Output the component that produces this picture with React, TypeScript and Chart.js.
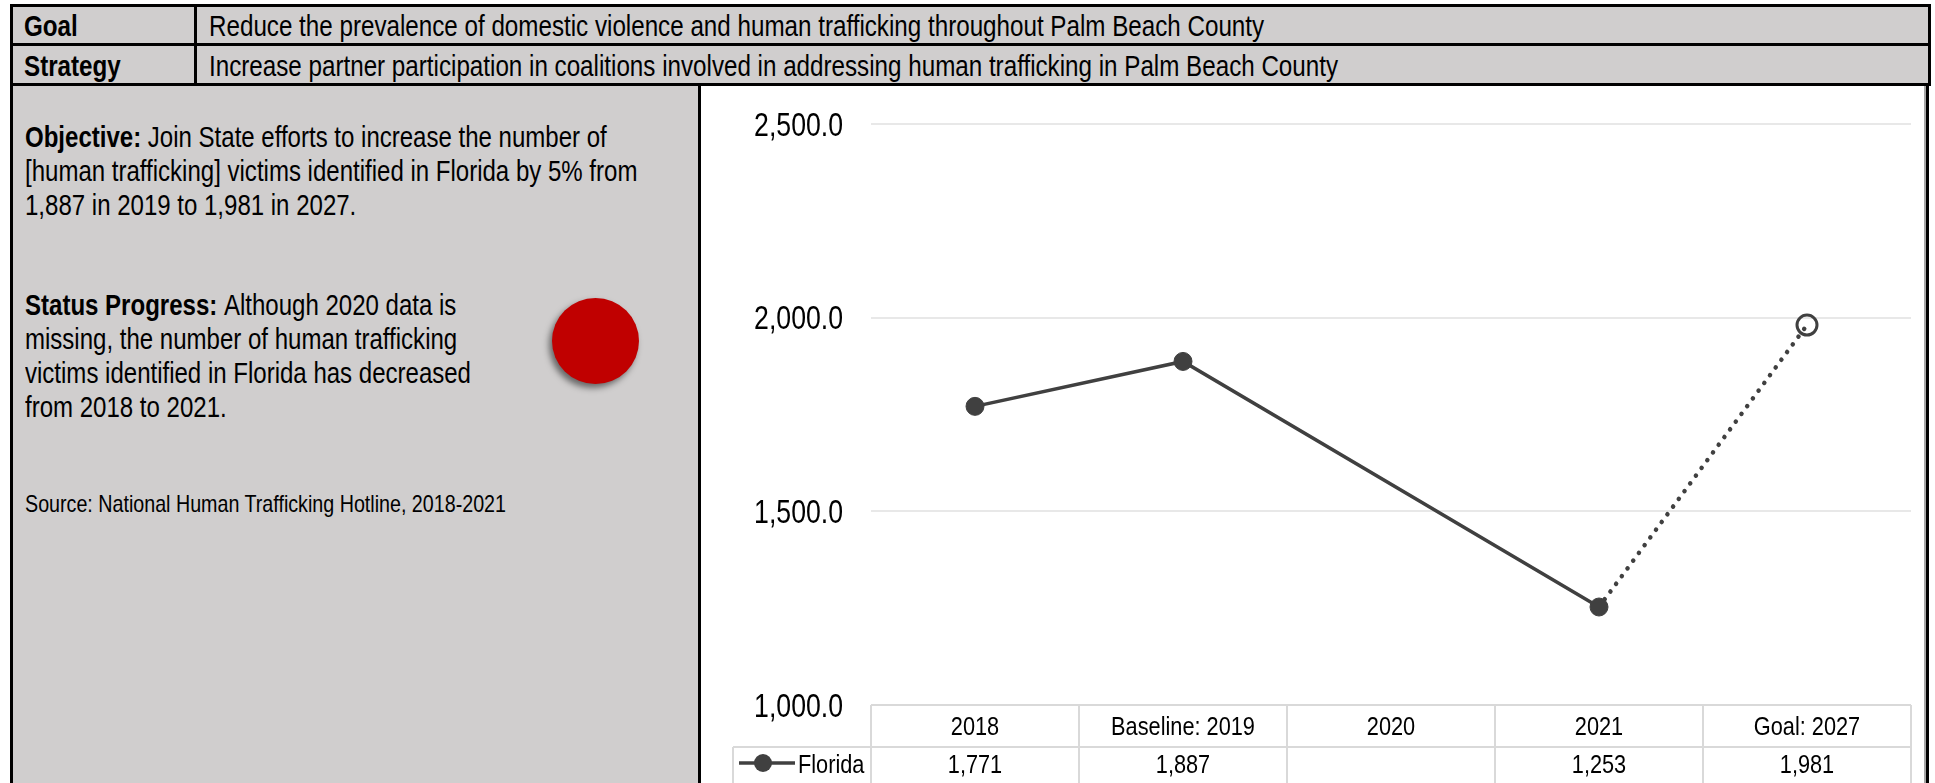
import React, { useEffect, useRef } from "react";
import { Chart, registerables } from "chart.js";

Chart.register(...registerables);

const FONT = '"Liberation Sans", Arimo, Arial, sans-serif';
const SX = 0.82; // horizontal squeeze to mimic Arial Narrow

const categories = ["2018", "Baseline: 2019", "2020", "2021", "Goal: 2027"];
const floridaValues: (number | null)[] = [1771, 1887, null, 1253, 1981];
const seriesName = "Florida";
const yMin = 1000;
const yMax = 2500;
const yStep = 500;

const goalText = "Reduce the prevalence of domestic violence and human trafficking throughout Palm Beach County";
const strategyText = "Increase partner participation in coalitions involved in addressing human trafficking in Palm Beach County";
const objectiveLines = [
  "Join State efforts to increase the number of",
  "[human trafficking] victims identified in Florida by 5% from",
  "1,887 in 2019 to 1,981 in 2027.",
];
const statusLines = [
  "Although 2020 data is",
  "missing, the number of human trafficking",
  "victims identified in Florida has decreased",
  "from 2018 to 2021.",
];
const sourceText = "Source: National Human Trafficking Hotline, 2018-2021";

const GRAY = "#d0cece";
const LINE = "#404040";
const TABLE_LINE = "#d9d9d9";

function squeezedText(ctx: any, text: string, x: number, y: number, align: string, size: number, weight = "normal") {
  ctx.save();
  ctx.translate(x, y);
  ctx.scale(SX, 1);
  ctx.textAlign = align;
  ctx.textBaseline = "alphabetic";
  ctx.font = `${weight} ${size}px ${FONT}`;
  ctx.fillStyle = "#000";
  ctx.fillText(text, 0, 0);
  ctx.restore();
}

const fmtTick = (v: number) =>
  Number(v).toLocaleString("en-US", { minimumFractionDigits: 1, maximumFractionDigits: 1 });

const tablePlugin = {
  id: "dataTable",
  afterDraw(chart: any) {
    const { ctx, chartArea, scales } = chart;
    const xs = scales.x;
    const ys = scales.y;
    const labels: string[] = chart.data.labels;
    const n = labels.length;
    const band = (chartArea.right - chartArea.left) / n;
    const top = chartArea.bottom;
    const rowH = 42;
    const H = chart.height;
    const legendLeft = 32;

    // y tick labels
    const tickSize = 32.5;
    ys.ticks.forEach((t: any) => {
      const y = ys.getPixelForValue(t.value);
      squeezedText(ctx, fmtTick(t.value), chartArea.left - 28, y + tickSize * 0.358, "right", tickSize);
    });

    ctx.save();
    ctx.strokeStyle = TABLE_LINE;
    ctx.lineWidth = 2;
    const seg = (x1: number, y1: number, x2: number, y2: number) => {
      ctx.beginPath();
      ctx.moveTo(x1, y1);
      ctx.lineTo(x2, y2);
      ctx.stroke();
    };
    seg(chartArea.left, top, chartArea.right, top);
    seg(legendLeft, top + rowH, chartArea.right, top + rowH);
    for (let i = 0; i <= n; i++) {
      const xb = i < n ? xs.getPixelForValue(i) - band / 2 : xs.getPixelForValue(n - 1) + band / 2;
      seg(xb, top, xb, H);
    }
    seg(legendLeft, top + rowH, legendLeft, H);
    ctx.restore();

    const values = chart.data.datasets[0].data;
    const fs = 26.5;
    for (let i = 0; i < n; i++) {
      const cx = xs.getPixelForValue(i);
      squeezedText(ctx, labels[i], cx, top + 30, "center", fs);
      const v = values[i];
      if (v !== null && v !== undefined) {
        squeezedText(ctx, Number(v).toLocaleString("en-US"), cx, top + 68, "center", fs);
      }
    }
    // legend cell
    const ly = top + 58;
    ctx.save();
    ctx.strokeStyle = LINE;
    ctx.lineWidth = 3.5;
    seg(legendLeft + 6, ly, legendLeft + 62, ly);
    ctx.fillStyle = LINE;
    ctx.beginPath();
    ctx.arc(legendLeft + 30, ly, 9, 0, Math.PI * 2);
    ctx.fill();
    ctx.restore();
    squeezedText(ctx, chart.data.datasets[0].label, legendLeft + 65, top + 68, "left", fs);
  },
};

function FloridaChart() {
  const ref = useRef<HTMLCanvasElement | null>(null);
  useEffect(() => {
    if (!ref.current) return;
    const last = floridaValues.length - 1;
    const chart = new Chart(ref.current, {
      type: "line",
      data: {
        labels: categories,
        datasets: [
          {
            label: seriesName,
            data: floridaValues,
            borderColor: LINE,
            borderWidth: 3.5,
            borderCapStyle: "round",
            spanGaps: true,
            pointRadius: floridaValues.map((_, i) => (i === last ? 10 : 9)),
            pointHoverRadius: 9,
            pointBorderWidth: floridaValues.map((_, i) => (i === last ? 3 : 1)),
            pointBorderColor: LINE,
            pointBackgroundColor: floridaValues.map((_, i) => (i === last ? "rgba(0,0,0,0)" : LINE)),
            segment: {
              borderDash: (c: any) => (c.p1DataIndex === last ? [0.1, 9.5] : undefined),
              borderWidth: (c: any) => (c.p1DataIndex === last ? 4.5 : undefined),
            },
          } as any,
        ],
      },
      options: {
        animation: false,
        responsive: false,
        events: [],
        layout: { padding: { top: 38, bottom: 86, right: 0, left: 0 } },
        plugins: { legend: { display: false }, tooltip: { enabled: false } },
        scales: {
          x: {
            type: "category",
            offset: true,
            display: false,
          },
          y: {
            min: yMin,
            max: yMax,
            border: { display: false },
            grid: { color: "#e8e8e8", lineWidth: 2, drawTicks: false },
            afterFit: (s: any) => {
              s.width = 170;
            },
            ticks: {
              stepSize: yStep,
              display: false,
            },
          },
        },
      },
      plugins: [tablePlugin],
    });
    return () => chart.destroy();
  }, []);
  return <canvas ref={ref} width={1223} height={705} style={{ display: "block" }} />;
}

export default function App() {
  const abs = (s: React.CSSProperties): React.CSSProperties => ({ position: "absolute", ...s });
  const squeeze: React.CSSProperties = { transform: `scaleX(${SX})`, transformOrigin: "0 0" };
  return (
    <div
      style={{
        position: "fixed",
        left: 0,
        top: 0,
        width: 1935,
        height: 783,
        overflow: "hidden",
        background: "#fff",
        fontFamily: FONT,
        color: "#000",
      }}
    >
      {/* header */}
      <div
        style={abs({
          left: 10,
          top: 4,
          width: 1921,
          height: 82,
          boxSizing: "border-box",
          border: "3px solid #000",
          background: GRAY,
        })}
      >
        <div style={abs({ left: 0, right: 0, top: 36, height: 3, background: "#000" })} />
        <div style={abs({ left: 181, top: 0, bottom: 0, width: 2.5, background: "#000" })} />
      </div>
      <div style={abs({ left: 24, top: 9, lineHeight: "34px", fontSize: 29.5, fontWeight: "bold", whiteSpace: "nowrap", ...squeeze })}>Goal</div>
      <div style={abs({ left: 24, top: 49, lineHeight: "34px", fontSize: 29.5, fontWeight: "bold", whiteSpace: "nowrap", ...squeeze })}>Strategy</div>
      <div style={abs({ left: 209, top: 9, lineHeight: "34px", fontSize: 29.5, whiteSpace: "nowrap", ...squeeze })}>{goalText}</div>
      <div style={abs({ left: 209, top: 49, lineHeight: "34px", fontSize: 29.5, whiteSpace: "nowrap", ...squeeze })}>{strategyText}</div>

      {/* left panel */}
      <div
        style={abs({
          left: 10,
          top: 86,
          width: 691,
          height: 710,
          boxSizing: "border-box",
          borderLeft: "3px solid #000",
          borderRight: "3px solid #000",
          background: GRAY,
        })}
      />
      <div style={abs({ left: 25, top: 120, fontSize: 29.3, lineHeight: "34px", whiteSpace: "nowrap", ...squeeze })}>
        {objectiveLines.map((l, i) => (
          <div key={i}>
            {i === 0 ? <b>Objective: </b> : null}
            {l}
          </div>
        ))}
      </div>
      <div style={abs({ left: 25, top: 288, fontSize: 29.3, lineHeight: "34px", whiteSpace: "nowrap", ...squeeze })}>
        {statusLines.map((l, i) => (
          <div key={i}>
            {i === 0 ? <b>Status Progress: </b> : null}
            {l}
          </div>
        ))}
      </div>
      <div style={abs({ left: 25, top: 490, fontSize: 24, lineHeight: "28px", whiteSpace: "nowrap", ...squeeze })}>{sourceText}</div>
      <div
        style={abs({
          left: 552,
          top: 298,
          width: 87,
          height: 86,
          borderRadius: "50%",
          background: "#c00000",
          boxShadow: "-3px 4px 6px rgba(0,0,0,0.5)",
        })}
      />

      {/* chart panel */}
      <div style={abs({ left: 701, top: 86, width: 1223, height: 710, background: "#fff" })}>
        <FloridaChart />
      </div>
      <div style={abs({ left: 1924, top: 86, width: 2, height: 710, background: "#a6a6a6" })} />
      <div style={abs({ left: 1926, top: 86, width: 3, height: 710, background: "#000" })} />
    </div>
  );
}
